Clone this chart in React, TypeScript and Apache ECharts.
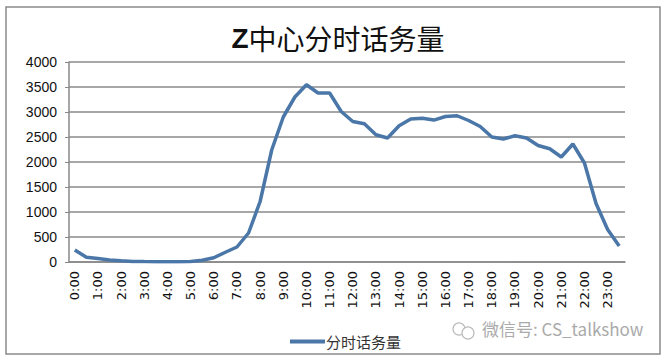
import React, { useEffect, useRef } from "react";
import * as echarts from "echarts";

const titleLead = "Z";
const titleRest = "中心分时话务量";
const seriesName = "分时话务量";
const watermark = "微信号: CS_talkshow";

const categories: string[] = [
  "0:00", "0:30", "1:00", "1:30", "2:00", "2:30", "3:00", "3:30",
  "4:00", "4:30", "5:00", "5:30", "6:00", "6:30", "7:00", "7:30",
  "8:00", "8:30", "9:00", "9:30", "10:00", "10:30", "11:00", "11:30",
  "12:00", "12:30", "13:00", "13:30", "14:00", "14:30", "15:00", "15:30",
  "16:00", "16:30", "17:00", "17:30", "18:00", "18:30", "19:00", "19:30",
  "20:00", "20:30", "21:00", "21:30", "22:00", "22:30", "23:00", "23:30",
];

const values: number[] = [
  240, 95, 70, 40, 25, 12, 8, 6,
  5, 5, 10, 35, 85, 195, 300, 580,
  1210, 2240, 2900, 3300, 3545, 3380, 3380, 3010,
  2810, 2765, 2545, 2480, 2725, 2860, 2877, 2838,
  2910, 2925, 2830, 2710, 2500, 2460, 2525, 2480,
  2330, 2265, 2100, 2360, 1980, 1170, 650, 320,
];

const yMin = 0;
const yMax = 4000;
const yStep = 500;

export default function App() {
  const ref = useRef<HTMLDivElement>(null);
  useEffect(() => {
    if (!ref.current) return;
    const chart = echarts.init(ref.current, null, { renderer: "svg" });
    chart.setOption({
      animation: false,
      backgroundColor: "#ffffff",
      title: {
        text: "{z|" + titleLead + "}{c|" + titleRest + "}",
        left: 333,
        top: 19,
        textAlign: "center",
        textStyle: {
          rich: {
            z: {
              fontFamily: "'Liberation Sans', Arial, sans-serif",
              fontSize: 28,
              fontWeight: "bold",
              color: "#111",
            },
            c: {
              fontFamily: "'Noto Sans CJK SC', sans-serif",
              fontSize: 28,
              fontWeight: "normal",
              color: "#111",
            },
          },
        },
      },
      grid: { left: 69, right: 39, top: 62, bottom: 101, containLabel: false },
      legend: {
        data: [seriesName],
        left: 285,
        top: 329,
        itemWidth: 35,
        itemHeight: 4,
        itemGap: 2,
        icon: "rect",
        textStyle: {
          fontFamily: "'Noto Sans CJK SC', sans-serif",
          fontSize: 15,
          color: "#333",
          padding: [0, 0, 0, -4],
        },
      },
      xAxis: {
        type: "category",
        data: categories,
        boundaryGap: true,
        axisLine: { lineStyle: { color: "#888", width: 1.5 } },
        axisTick: { interval: 0, length: 5, lineStyle: { color: "#888" } },
        axisLabel: {
          interval: 1,
          rotate: 90,
          margin: 9,
          fontSize: 13,
          color: "#111",
          fontFamily: "'DejaVu Sans', sans-serif",
        },
        splitLine: { show: false },
      },
      yAxis: {
        type: "value",
        min: yMin,
        max: yMax,
        interval: yStep,
        axisLine: { show: true, lineStyle: { color: "#888", width: 1.5 } },
        axisTick: { show: true, length: 4, lineStyle: { color: "#888" } },
        axisLabel: {
          fontSize: 14,
          color: "#111",
          margin: 12,
          fontFamily: "'Liberation Sans', Arial, sans-serif",
          formatter: (v: number) => String(v),
        },
        splitLine: { lineStyle: { color: "#8a8a8a", width: 1.5 } },
      },
      series: [
        {
          name: seriesName,
          type: "line",
          data: values,
          symbol: "none",
          lineStyle: { color: "#4a77a8", width: 3.5 },
          itemStyle: { color: "#4a77a8" },
        },
      ],
      graphic: [
        {
          type: "rect",
          shape: { x: 6, y: 7, width: 654, height: 347 },
          style: { fill: "none", stroke: "#8a8a8a", lineWidth: 1.5 },
          silent: true,
          z: -1,
        },
        {
          type: "circle",
          shape: { cx: 459, cy: 329, r: 6 },
          style: { fill: "none", stroke: "#bbb", lineWidth: 1.2 },
        },
        {
          type: "circle",
          shape: { cx: 468, cy: 333, r: 6 },
          style: { fill: "#fff", stroke: "#bbb", lineWidth: 1.2 },
        },
        {
          type: "text",
          left: 482,
          top: 320,
          style: {
            text: watermark,
            fontSize: 17,
            fill: "#aaa",
            fontFamily: "'Noto Sans CJK SC', sans-serif",
          },
        },
      ],
    });
    return () => chart.dispose();
  }, []);
  return (
    <div
      ref={ref}
      style={{ position: "fixed", left: 0, top: 0, width: 664, height: 363 }}
    />
  );
}
